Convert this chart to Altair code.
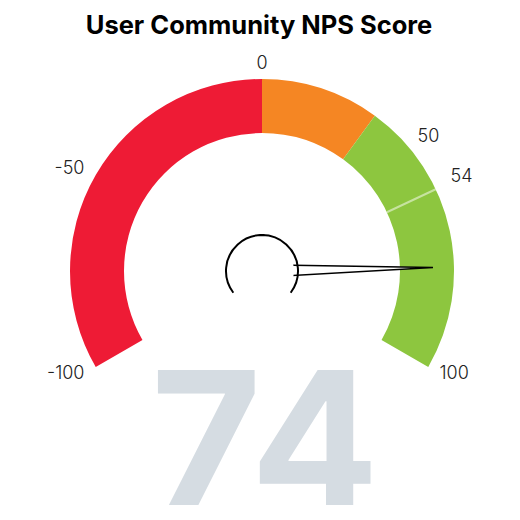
import math
import altair as alt
import pandas as pd

# ---- data ----
title_text = "User Community NPS Score"
band_start = [-100, 0, 30]
band_end = [0, 30, 100]
band_color = ["#EE1B35", "#F58623", "#8DC63F"]
tick_values = [-100, -50, 0, 50, 100]
tick_labels = ["-100", "-50", "0", "50", "100"]
target_value = [54]
target_label = ["54"]
score = [74]

bands = pd.DataFrame({"start": band_start, "end": band_end, "color": band_color})
ticks = pd.DataFrame({"value": tick_values, "label": tick_labels})
target = pd.DataFrame({"value": target_value, "label": target_label})
needle = pd.DataFrame({"value": score, "label": [str(s) for s in score]})

CX, CY = 254, 263
R_OUT, R_IN = 192, 138
NEEDLE_LEN = 171

theta_scale = alt.Scale(domain=[-100, 100], range=[-2 * math.pi / 3, 2 * math.pi / 3])
angle_scale = alt.Scale(domain=[-100, 100], range=[-120, 120])
cx = alt.value(CX)
cy = alt.value(CY)

big = alt.Chart(needle).mark_text(
    font="Inter", fontWeight=700, fontSize=190, color="#D5DCE2",
    align="center", baseline="alphabetic"
).encode(text="label:N", x=alt.value(257), y=alt.value(500))

title = alt.Chart(pd.DataFrame({"t": [title_text]})).mark_text(
    font="Inter", fontWeight=700, fontSize=25.5, color="#000000",
    align="center", baseline="alphabetic"
).encode(text="t:N", x=alt.value(251), y=alt.value(26))

band_layer = alt.Chart(bands).mark_arc(strokeWidth=0).encode(
    theta=alt.Theta("start:Q", scale=theta_scale, stack=False),
    theta2="end:Q",
    radius=alt.value(R_OUT),
    radius2=alt.value(R_IN),
    color=alt.Color("color:N", scale=None),
    x=cx, y=cy,
)

target_line = alt.Chart(target).mark_arc(
    stroke="white", strokeWidth=2, strokeOpacity=0.5, fillOpacity=0
).encode(
    theta=alt.Theta("value:Q", scale=theta_scale, stack=False),
    theta2="value:Q",
    radius=alt.value(R_OUT),
    radius2=alt.value(R_IN),
    x=cx, y=cy,
)

label_style = dict(font="Inter", fontSize=18, fontWeight=300, color="#222222", baseline="middle")

left_labels = alt.Chart(ticks).transform_filter("datum.value < 0").mark_text(
    align="right", **label_style
).encode(
    theta=alt.Theta("value:Q", scale=theta_scale), radius=alt.value(205),
    text="label:N", x=cx, y=cy,
)
top_labels = alt.Chart(ticks).transform_filter("datum.value == 0").mark_text(
    align="center", dy=-2, **label_style
).encode(
    theta=alt.Theta("value:Q", scale=theta_scale), radius=alt.value(205),
    text="label:N", x=cx, y=cy,
)
right_labels = alt.Chart(ticks).transform_filter("datum.value == 100").mark_text(
    align="left", **label_style
).encode(
    theta=alt.Theta("value:Q", scale=theta_scale), radius=alt.value(205),
    text="label:N", x=cx, y=cy,
)
fifty_label = alt.Chart(ticks).transform_filter("datum.value == 50").mark_text(
    align="left", dx=-22, dy=-32, **label_style
).encode(
    theta=alt.Theta("value:Q", scale=theta_scale), radius=alt.value(205),
    text="label:N", x=cx, y=cy,
)
target_text = alt.Chart(target).mark_text(
    align="left", dx=3, dy=-7, **label_style
).encode(
    theta=alt.Theta("value:Q", scale=theta_scale), radius=alt.value(205),
    text="label:N", x=cx, y=cy,
)

needle_shape = "M -0.036 0 L 0 -1 L 0.036 0 Z"
needle_layer = alt.Chart(needle).mark_point(
    shape=needle_shape, size=(2 * NEEDLE_LEN) ** 2, filled=True,
    fill="white", stroke="black", strokeWidth=1.5, opacity=1
).encode(
    angle=alt.Angle("value:Q", scale=angle_scale),
    x=cx, y=cy,
)

pivot_fill = alt.Chart(needle).mark_point(
    shape="circle", size=math.pi * 36 ** 2, filled=True, fill="white",
    opacity=1, strokeWidth=0
).encode(x=cx, y=cy)

pivot_ring = alt.Chart(needle).mark_arc(
    stroke="black", strokeWidth=2, fillOpacity=0
).encode(
    theta=alt.value(-2.22), theta2=alt.value(2.22),
    radius=alt.value(36), radius2=alt.value(36),
    x=cx, y=cy,
)

chart = alt.layer(
    big, title, band_layer, target_line,
    left_labels, top_labels, right_labels, fifty_label, target_text,
    needle_layer, pivot_fill, pivot_ring,
).properties(
    width=504, height=497, autosize="none", padding=0
).configure_view(strokeWidth=0)

chart.save("out.html", embed_options={"renderer": "svg", "actions": False})
